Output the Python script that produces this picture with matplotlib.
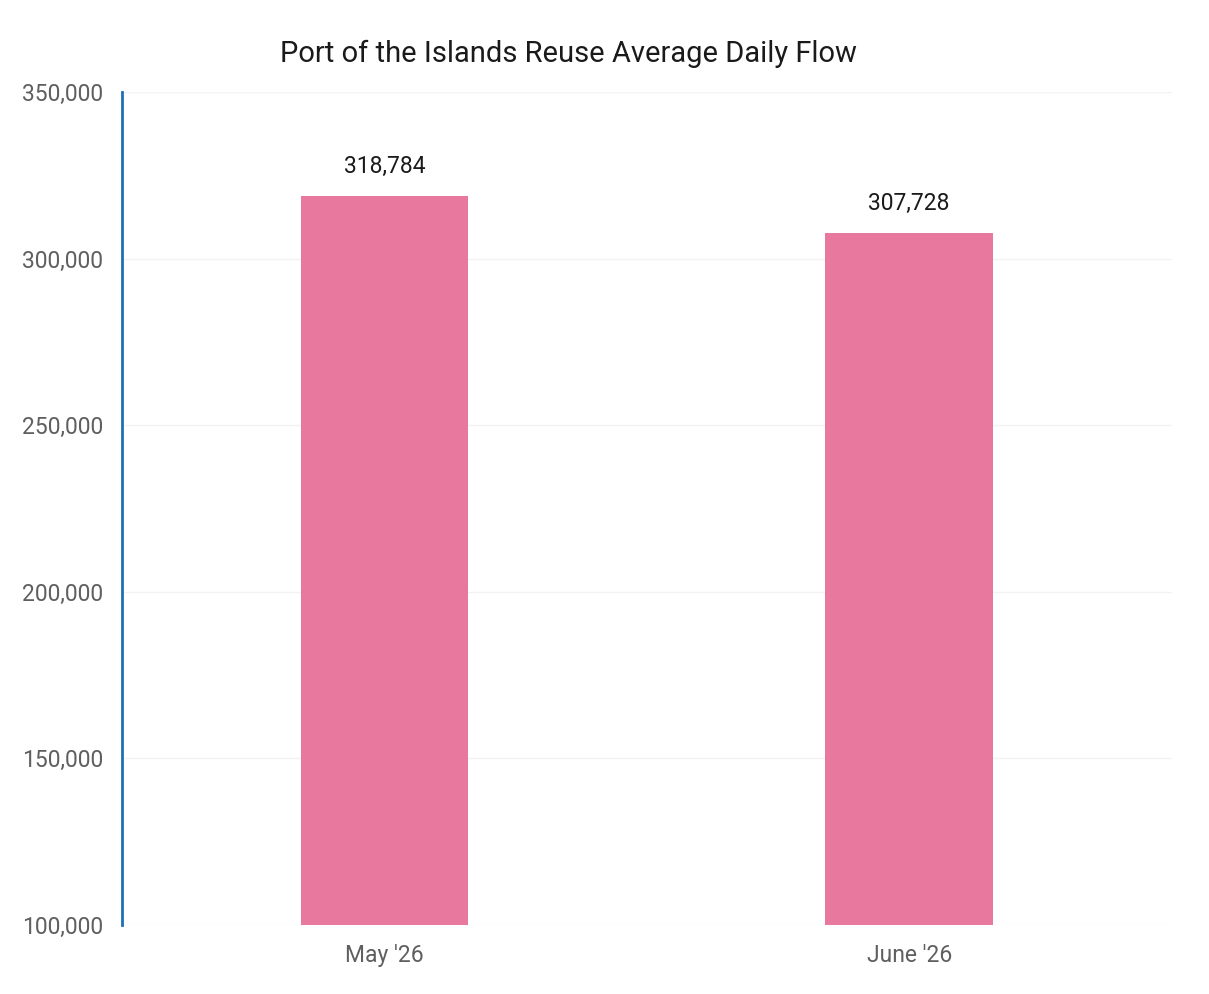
import matplotlib.pyplot as plt
from matplotlib.ticker import FuncFormatter

# Данные
months = ["May '26", "June '26"]
avg_flow = [318784, 307728]
y_ticks = [100000, 150000, 200000, 250000, 300000, 350000]

plt.rcParams['font.family'] = ['Roboto', 'DejaVu Sans']

fig = plt.figure(figsize=(12.09, 9.94), dpi=100)
ax = fig.add_axes([0.101, 0.0694, 0.868, 0.838])

x = range(len(months))
bars = ax.bar(x, avg_flow, width=0.32, color='#e8789d', zorder=2)

ax.set_xlim(-0.5, 1.5)
ax.set_ylim(100000, 350000)
ax.set_yticks(y_ticks)
ax.yaxis.set_major_formatter(FuncFormatter(lambda v, _: f'{int(v):,}'))
ax.set_xticks(list(x))
ax.set_xticklabels(months)

ax.tick_params(axis='y', length=0, pad=13.5, labelsize=16.5, labelcolor='#5f5f5f')
ax.tick_params(axis='x', length=0, pad=14, labelsize=16.5, labelcolor='#5f5f5f')

for side in ['top', 'right', 'bottom']:
    ax.spines[side].set_visible(False)
ax.spines['left'].set_color('#1f6fb4')
ax.spines['left'].set_linewidth(2)

ax.grid(axis='y', color='#f3f3f3', linewidth=1, zorder=0)

for b, v in zip(bars, avg_flow):
    ax.annotate(f'{v:,}', (b.get_x() + b.get_width() / 2, v),
                xytext=(0, 21), textcoords='offset points',
                ha='center', va='center', fontsize=16.5, color='#1a1a1a')

fig.text(0.47, 0.946, 'Port of the Islands Reuse Average Daily Flow',
         ha='center', va='center', fontsize=21, color='#1a1a1a')

fig.savefig('out.png', dpi=100)
